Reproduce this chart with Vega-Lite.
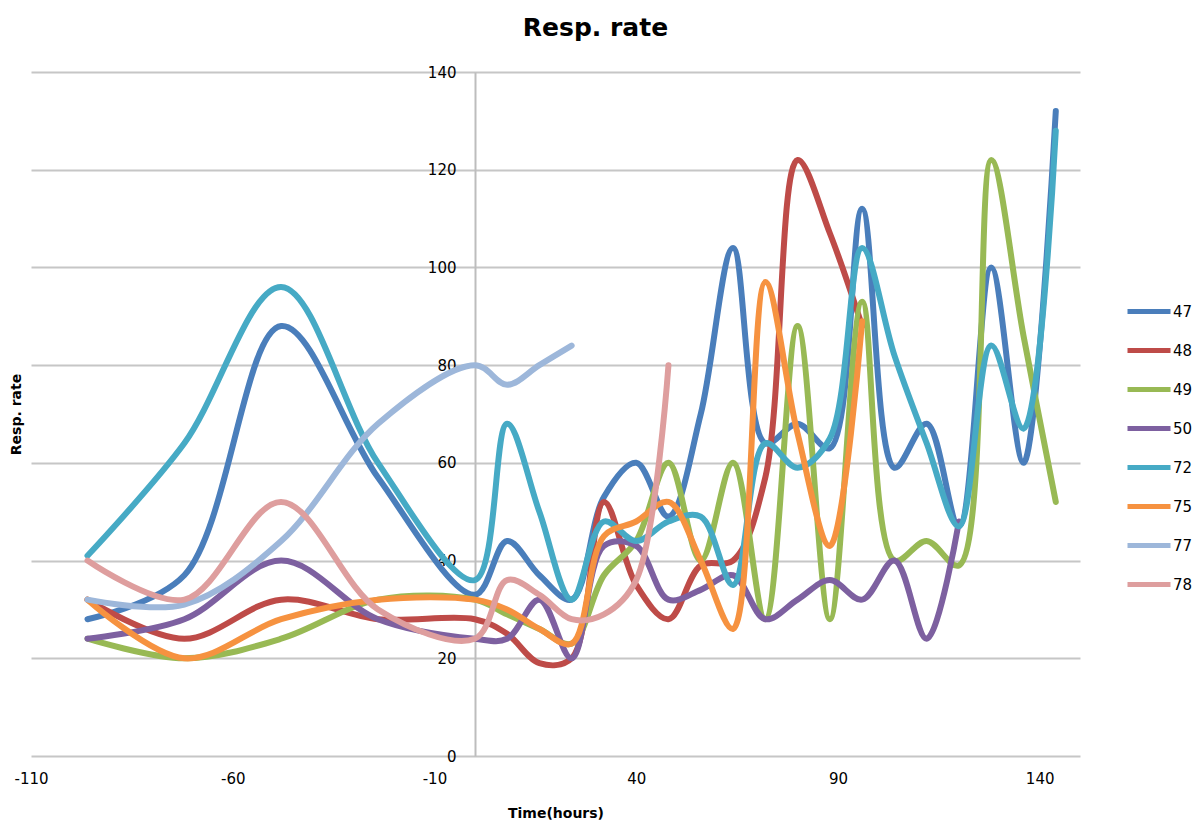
{
  "$schema": "https://vega.github.io/schema/vega-lite/v6.json",
  "width": 1049,
  "height": 684,
  "autosize": {"type": "none"},
  "padding": {"left": 31, "top": 72, "right": 117, "bottom": 67},
  "background": "white",
  "title": {
    "text": "Resp. rate",
    "font": "DejaVu Sans",
    "fontSize": 25,
    "fontWeight": "bold",
    "color": "#000000",
    "anchor": "middle",
    "frame": "group",
    "dx": 40,
    "offset": 24
  },
  "data": {
    "values": [
      {"s": "47", "t": -96, "v": 28}, {"s": "47", "t": -72, "v": 37}, {"s": "47", "t": -48, "v": 88}, {"s": "47", "t": -24, "v": 57},
      {"s": "47", "t": 0, "v": 33}, {"s": "47", "t": 8, "v": 44}, {"s": "47", "t": 16, "v": 37}, {"s": "47", "t": 24, "v": 32},
      {"s": "47", "t": 32, "v": 53}, {"s": "47", "t": 40, "v": 60}, {"s": "47", "t": 48, "v": 49}, {"s": "47", "t": 56, "v": 70},
      {"s": "47", "t": 64, "v": 104}, {"s": "47", "t": 72, "v": 64}, {"s": "47", "t": 80, "v": 68}, {"s": "47", "t": 88, "v": 63},
      {"s": "47", "t": 96, "v": 112}, {"s": "47", "t": 104, "v": 59}, {"s": "47", "t": 112, "v": 68}, {"s": "47", "t": 120, "v": 47},
      {"s": "47", "t": 128, "v": 100}, {"s": "47", "t": 136, "v": 60}, {"s": "47", "t": 144, "v": 132},

      {"s": "48", "t": -96, "v": 32}, {"s": "48", "t": -72, "v": 24}, {"s": "48", "t": -48, "v": 32}, {"s": "48", "t": -24, "v": 28},
      {"s": "48", "t": 0, "v": 28}, {"s": "48", "t": 8, "v": 25}, {"s": "48", "t": 16, "v": 19}, {"s": "48", "t": 24, "v": 20},
      {"s": "48", "t": 32, "v": 52}, {"s": "48", "t": 40, "v": 35}, {"s": "48", "t": 48, "v": 28}, {"s": "48", "t": 56, "v": 39},
      {"s": "48", "t": 64, "v": 40}, {"s": "48", "t": 72, "v": 57}, {"s": "48", "t": 80, "v": 122}, {"s": "48", "t": 88, "v": 107},
      {"s": "48", "t": 96, "v": 88},

      {"s": "49", "t": -96, "v": 24}, {"s": "49", "t": -72, "v": 20}, {"s": "49", "t": -48, "v": 24}, {"s": "49", "t": -24, "v": 32},
      {"s": "49", "t": 0, "v": 32}, {"s": "49", "t": 8, "v": 29}, {"s": "49", "t": 16, "v": 26}, {"s": "49", "t": 24, "v": 23},
      {"s": "49", "t": 32, "v": 37}, {"s": "49", "t": 40, "v": 44}, {"s": "49", "t": 48, "v": 60}, {"s": "49", "t": 56, "v": 40},
      {"s": "49", "t": 64, "v": 60}, {"s": "49", "t": 72, "v": 28}, {"s": "49", "t": 80, "v": 88}, {"s": "49", "t": 88, "v": 28},
      {"s": "49", "t": 96, "v": 93}, {"s": "49", "t": 104, "v": 40}, {"s": "49", "t": 112, "v": 44}, {"s": "49", "t": 120, "v": 39},
      {"s": "49", "t": 128, "v": 122}, {"s": "49", "t": 136, "v": 86}, {"s": "49", "t": 144, "v": 52},

      {"s": "50", "t": -96, "v": 24}, {"s": "50", "t": -72, "v": 28}, {"s": "50", "t": -48, "v": 40}, {"s": "50", "t": -24, "v": 28},
      {"s": "50", "t": 0, "v": 24}, {"s": "50", "t": 8, "v": 24}, {"s": "50", "t": 16, "v": 32}, {"s": "50", "t": 24, "v": 20},
      {"s": "50", "t": 32, "v": 43}, {"s": "50", "t": 40, "v": 43}, {"s": "50", "t": 48, "v": 32}, {"s": "50", "t": 56, "v": 34},
      {"s": "50", "t": 64, "v": 37}, {"s": "50", "t": 72, "v": 28}, {"s": "50", "t": 80, "v": 32}, {"s": "50", "t": 88, "v": 36},
      {"s": "50", "t": 96, "v": 32}, {"s": "50", "t": 104, "v": 40}, {"s": "50", "t": 112, "v": 24}, {"s": "50", "t": 120, "v": 48},

      {"s": "72", "t": -96, "v": 41}, {"s": "72", "t": -72, "v": 64}, {"s": "72", "t": -48, "v": 96}, {"s": "72", "t": -24, "v": 60},
      {"s": "72", "t": 0, "v": 36}, {"s": "72", "t": 8, "v": 68}, {"s": "72", "t": 16, "v": 50}, {"s": "72", "t": 24, "v": 32},
      {"s": "72", "t": 32, "v": 48}, {"s": "72", "t": 40, "v": 44}, {"s": "72", "t": 48, "v": 48}, {"s": "72", "t": 56, "v": 49},
      {"s": "72", "t": 64, "v": 35}, {"s": "72", "t": 72, "v": 64}, {"s": "72", "t": 80, "v": 59}, {"s": "72", "t": 88, "v": 65},
      {"s": "72", "t": 96, "v": 104}, {"s": "72", "t": 104, "v": 82}, {"s": "72", "t": 112, "v": 64}, {"s": "72", "t": 120, "v": 47},
      {"s": "72", "t": 128, "v": 84}, {"s": "72", "t": 136, "v": 67}, {"s": "72", "t": 144, "v": 128},

      {"s": "75", "t": -96, "v": 32}, {"s": "75", "t": -72, "v": 20}, {"s": "75", "t": -48, "v": 28}, {"s": "75", "t": -24, "v": 32},
      {"s": "75", "t": 0, "v": 32}, {"s": "75", "t": 8, "v": 30}, {"s": "75", "t": 16, "v": 26}, {"s": "75", "t": 24, "v": 23},
      {"s": "75", "t": 32, "v": 45}, {"s": "75", "t": 40, "v": 48}, {"s": "75", "t": 48, "v": 52}, {"s": "75", "t": 56, "v": 40},
      {"s": "75", "t": 64, "v": 26}, {"s": "75", "t": 72, "v": 97}, {"s": "75", "t": 80, "v": 66}, {"s": "75", "t": 88, "v": 43},
      {"s": "75", "t": 96, "v": 89},

      {"s": "77", "t": -96, "v": 32}, {"s": "77", "t": -72, "v": 31}, {"s": "77", "t": -48, "v": 44}, {"s": "77", "t": -24, "v": 68},
      {"s": "77", "t": 0, "v": 80}, {"s": "77", "t": 8, "v": 76}, {"s": "77", "t": 16, "v": 80}, {"s": "77", "t": 24, "v": 84},

      {"s": "78", "t": -96, "v": 40}, {"s": "78", "t": -72, "v": 32}, {"s": "78", "t": -48, "v": 52}, {"s": "78", "t": -24, "v": 30},
      {"s": "78", "t": 0, "v": 24}, {"s": "78", "t": 8, "v": 36}, {"s": "78", "t": 16, "v": 33}, {"s": "78", "t": 24, "v": 28},
      {"s": "78", "t": 32, "v": 29}, {"s": "78", "t": 40, "v": 36}, {"s": "78", "t": 48, "v": 80}
    ]
  },
  "mark": {
    "type": "line",
    "interpolate": "catmull-rom",
    "strokeWidth": 6,
    "strokeCap": "round",
    "strokeJoin": "round"
  },
  "encoding": {
    "x": {
      "field": "t",
      "type": "quantitative",
      "scale": {"domain": [-110, 150], "nice": false, "zero": false},
      "axis": {
        "values": [-110, -60, -10, 40, 90, 140],
        "labelExpr": "'' + datum.value",
        "title": "Time(hours)",
        "grid": false,
        "domain": false,
        "ticks": false,
        "tickSize": 0,
        "labelFlush": false,
        "labelOverlap": false,
        "labelPadding": 15,
        "labelFont": "DejaVu Sans",
        "labelFontSize": 15,
        "labelColor": "#000000",
        "titleFont": "DejaVu Sans",
        "titleFontSize": 14,
        "titleFontWeight": "bold",
        "titleColor": "#000000",
        "titlePadding": 20
      }
    },
    "y": {
      "field": "v",
      "type": "quantitative",
      "scale": {"domain": [0, 140], "nice": false},
      "axis": {
        "values": [0, 20, 40, 60, 80, 100, 120, 140],
        "title": "Resp. rate",
        "offset": -444,
        "zindex": 0,
        "grid": true,
        "gridColor": "#C6C6C6",
        "gridWidth": 2,
        "domain": true,
        "domainColor": "#BDBDBD",
        "domainWidth": 2,
        "ticks": false,
        "tickSize": 0,
        "labelPadding": 19,
        "labelFont": "DejaVu Sans",
        "labelFontSize": 15,
        "labelColor": "#000000",
        "titleFont": "DejaVu Sans",
        "titleFontSize": 14,
        "titleFontWeight": "bold",
        "titleColor": "#000000",
        "titleX": -452
      }
    },
    "color": {
      "field": "s",
      "type": "nominal",
      "scale": {
        "domain": ["47", "48", "49", "50", "72", "75", "77", "78"],
        "range": ["#4A7EBB", "#BE4B48", "#98B954", "#7D60A0", "#46AAC5", "#F69240", "#9DB7DA", "#DE9E9E"]
      },
      "legend": {
        "orient": "none",
        "legendX": 1094,
        "legendY": 220,
        "title": null,
        "symbolType": "stroke",
        "symbolSize": 1849,
        "symbolStrokeWidth": 5,
        "labelFont": "DejaVu Sans",
        "labelFontSize": 15,
        "labelColor": "#000000",
        "labelOffset": 0,
        "clipHeight": 39,
        "rowPadding": 0
      }
    }
  },
  "config": {"view": {"stroke": null}}
}
